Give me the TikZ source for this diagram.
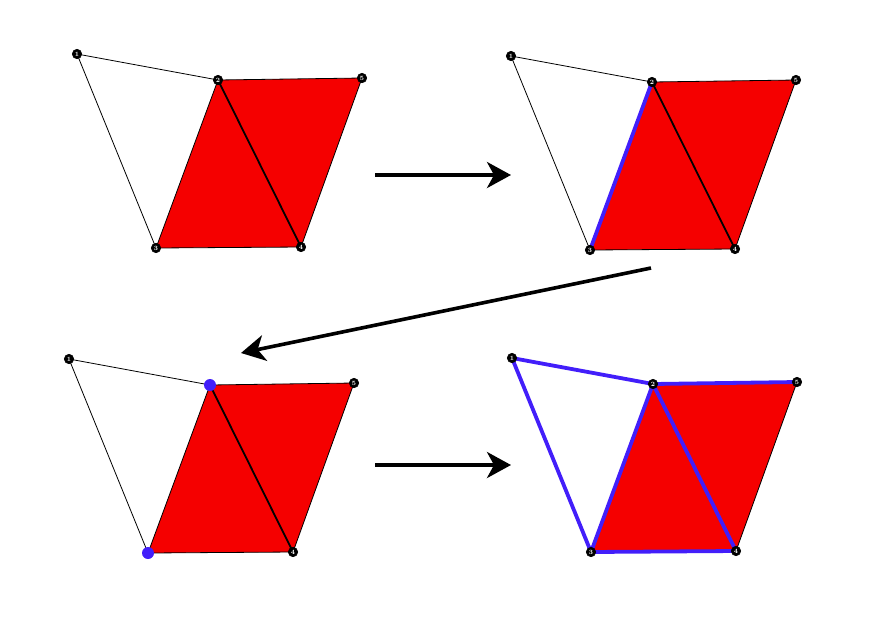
\documentclass[tikz,border=0pt]{standalone}
\usetikzlibrary{arrows.meta}
\definecolor{tri}{RGB}{245,0,0}
\definecolor{hl}{RGB}{66,30,250}
\begin{document}
\begin{tikzpicture}[x=1pt,y=-1pt,
  thinedge/.style={draw=black,line width=0.8pt},
  diag/.style={draw=black,line width=1.8pt},
  hledge/.style={draw=hl,line width=3.8pt,line cap=round},
  vtx/.style={circle,fill=black,draw=black,line width=0.6pt,inner sep=0pt,minimum size=9.5pt,text=white,font=\fontsize{6.5}{6.5}\selectfont\bfseries},
  hldot/.style={circle,fill=hl,inner sep=0pt,minimum size=12pt},
  bigarrow/.style={line width=3.6pt,-{Stealth[length=24pt,width=26pt,inset=7pt]}}]
\useasboundingbox (0,0) rectangle (873,625);
\newcommand\mkpanel[3]{%
  \begin{scope}[shift={(#2,#3)}]
    \coordinate (#1v1) at (0,0);
    \coordinate (#1v2) at (141,26);
    \coordinate (#1v3) at (79,194);
    \coordinate (#1v4) at (224,193);
    \coordinate (#1v5) at (285,24);
  \end{scope}
  \fill[tri] (#1v2) -- (#1v3) -- (#1v4) -- cycle;
  \fill[tri] (#1v2) -- (#1v4) -- (#1v5) -- cycle;
  \draw[thinedge] (#1v2) -- (#1v1) -- (#1v3);
  \draw[thinedge] (#1v2) -- (#1v3) -- (#1v4) -- (#1v5) -- cycle;
  \draw[diag] (#1v2) -- (#1v4);
}
\mkpanel{a}{77}{54}
\mkpanel{b}{511}{56}
\mkpanel{c}{69}{359}
\mkpanel{d}{512}{358}
% panel 2 highlight
\draw[hledge] (bv2) -- (bv3);
% panel 4 highlights
\draw[hledge] (dv2) -- (dv1) -- (dv3);
\draw[hledge] (dv3) -- (dv2) -- (dv4);
\draw[hledge] (dv5) -- (dv2);
\draw[hledge] (dv3) -- (dv4);
% vertex markers
\foreach \p in {a,b,d}{
  \foreach \i in {1,...,5}{
    \node[vtx] (\p n\i) at (\p v\i) {\i};
  }
}
\node[vtx] (cn1) at (cv1) {1};
\node[vtx] (cn4) at (cv4) {4};
\node[vtx] (cn5) at (cv5) {5};
\node[hldot] (cn2) at (cv2) {};
\node[hldot] (cn3) at (cv3) {};
% arrows
\coordinate (a1s) at (375,175);
\coordinate (a1e) at (511,175);
\coordinate (a2s) at (651,268);
\coordinate (a2e) at (241,353);
\coordinate (a3s) at (375,465);
\coordinate (a3e) at (511,465);
\draw[bigarrow] (a1s) -- (a1e);
\draw[bigarrow] (a2s) -- (a2e);
\draw[bigarrow] (a3s) -- (a3e);
\end{tikzpicture}
\end{document}
